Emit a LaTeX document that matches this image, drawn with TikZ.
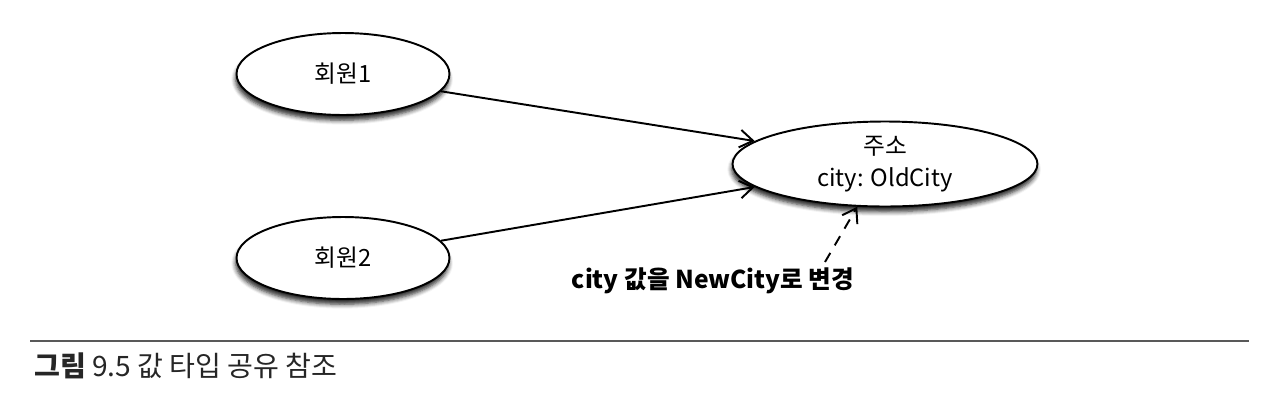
\documentclass[tikz,border=0pt]{standalone}
\usepackage{fontspec}
\setmainfont{Noto Sans CJK KR}
\usetikzlibrary{arrows.meta,shapes.geometric,shadows.blur}

\begin{document}
\begin{tikzpicture}[x=0.02cm,y=-0.02cm,>={Straight Barb[length=7.5pt,width=10pt]},
    obj/.style={ellipse,draw,line width=1.1pt,fill=white,inner sep=0pt,align=center,
      font=\fontsize{13.5}{18.5}\selectfont,
      blur shadow={shadow xshift=-0.5pt,shadow yshift=-3pt,shadow blur steps=5,shadow blur radius=2.5pt,shadow opacity=85}},
    ref/.style={->,line width=1.1pt}]
    \useasboundingbox (0,0) rectangle (1288,400);
    \node[obj,minimum width=4.26cm,minimum height=1.64cm] (m1) at (343,74) {회원1};
    \node[obj,minimum width=4.26cm,minimum height=1.64cm] (m2) at (343,258) {회원2};
    \node[obj,minimum width=6.1cm,minimum height=1.7cm] (addr) at (885,164) {주소\\city: OldCity};
    \draw[ref] (m1.-10) -- (addr.170);
    \draw[ref] (m2.10) -- (addr.190);
    \node[font=\fontsize{14}{16}\selectfont\bfseries] (chg) at (713,281) {city 값을 NewCity로 변경};
    \coordinate (chgtail) at (825,262);
    \draw[ref,dashed,dash pattern=on 6pt off 5pt] (chgtail) -- (addr.237);
    \draw[black!65,line width=0.8pt] (30,341) -- (1249,341);
    \node[anchor=base west,font=\fontsize{16}{18}\selectfont,text=black!85] (cap) at (28,376) {\textbf{그림} 9.5 값 타입 공유 참조};
\end{tikzpicture}
\end{document}
